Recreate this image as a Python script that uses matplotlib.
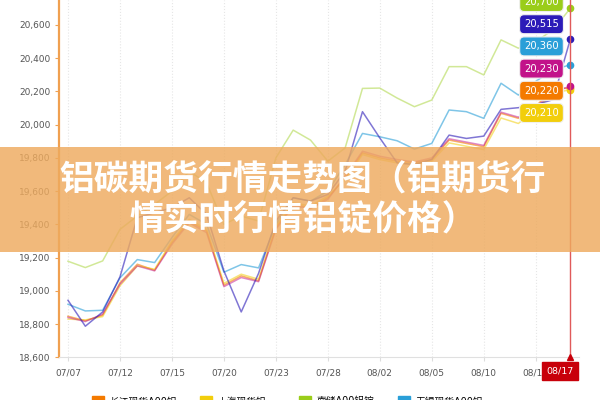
import matplotlib
matplotlib.use("Agg")
import matplotlib.pyplot as plt
from matplotlib.patches import Rectangle, Patch
from matplotlib.ticker import FuncFormatter

plt.rcParams['font.family'] = ['DejaVu Sans', 'Noto Sans CJK SC']

dates = ["07/07", "07/08", "07/11", "07/12", "07/13", "07/14", "07/15", "07/18",
         "07/19", "07/20", "07/21", "07/22", "07/23", "07/26", "07/27", "07/28",
         "07/29", "08/01", "08/02", "08/03", "08/04", "08/05", "08/08", "08/09",
         "08/10", "08/11", "08/12", "08/13", "08/16", "08/17"]

names = ["长江现货A00铝", "上海现货铝", "南储A00铝锭", "无锡现货A00铝", "佛山A00铝锭", "巩义A00铝锭"]

orange = [18847, 18820, 18853, 19048, 19160, 19124, 19290, 19420, 19360, 19034,
          19090, 19060, 19380, 19520, 19500, 19560, 19680, 19830, 19800, 19780,
          19770, 19790, 19907, 19887, 19867, 20068, 20038, 20110, 20215, 20220]
yellow = [18830, 18825, 18845, 19030, 19150, 19130, 19300, 19430, 19370, 19045,
          19100, 19070, 19390, 19530, 19510, 19570, 19670, 19820, 19790, 19770,
          19760, 19780, 19890, 19870, 19850, 20040, 20007, 20090, 20190, 20210]
ygreen = [19178, 19140, 19180, 19370, 19450, 19520, 19600, 19720, 19650, 19400,
          19450, 19420, 19800, 19967, 19907, 19780, 19860, 20218, 20220, 20160,
          20108, 20148, 20349, 20349, 20299, 20510, 20460, 20500, 20570, 20700]
lblue = [18919, 18879, 18883, 19078, 19188, 19170, 19320, 19460, 19400, 19112,
         19158, 19138, 19400, 19560, 19540, 19600, 19760, 19947, 19927, 19903,
         19853, 19887, 20088, 20078, 20038, 20249, 20178, 20260, 20330, 20360]
magenta = [18840, 18815, 18860, 19040, 19150, 19120, 19280, 19410, 19350, 19025,
           19080, 19055, 19370, 19510, 19495, 19550, 19690, 19840, 19810, 19790,
           19775, 19800, 19915, 19895, 19875, 20075, 20045, 20100, 20200, 20230]
indigo = [18943, 18787, 18873, 19084, 19440, 19470, 19500, 19560, 19460, 19120,
          18873, 19105, 19420, 19560, 19540, 19580, 19720, 20078, 19920, 19770,
          19760, 19790, 19937, 19917, 19931, 20092, 20102, 20120, 20150, 20515]

series = [orange, yellow, ygreen, lblue, magenta, indigo]
colors = ["#F47A00", "#F2CE0C", "#9ACD1A", "#2A9FD8", "#C2138A", "#2B1BB8"]
line_alpha = [0.6, 0.55, 0.45, 0.6, 0.5, 0.6]

yticks = list(range(18600, 20601, 200))

fig = plt.figure(figsize=(6, 4), dpi=100)
ax = fig.add_axes([59/600, 1 - 357.3/400, 520/600, 357.3/400])

x = list(range(len(dates)))
for s, c, a in zip(series, colors, line_alpha):
    ax.plot(x, s, color=c, lw=1.1, alpha=a, zorder=3)
    ax.plot(x[-1], s[-1], 'o', color=c, ms=4.5, zorder=4)

ax.set_xlim(-0.52, 29.5)
ax.set_ylim(18600, 20750)
ax.set_yticks(yticks)
ax.yaxis.set_major_formatter(FuncFormatter(lambda v, p: f"{int(v):,}"))
ax.set_xticks(x[::3])
ax.set_xticklabels(dates[::3])
ax.tick_params(axis='y', length=3, color='#F0A050', labelsize=6.5, labelcolor='#555555', pad=3)
ax.tick_params(axis='x', length=3, color='#dddddd', labelsize=6.5, labelcolor='#555555', pad=5)
ax.grid(axis='x', color='#e6e6e6', ls=':', lw=0.8)
ax.grid(axis='y', visible=False)
for sp in ['top', 'right']:
    ax.spines[sp].set_visible(False)
ax.spines['left'].set_color('#F0A050')
ax.spines['left'].set_linewidth(1.6)
ax.spines['bottom'].set_color('#e0e0e0')

# crosshair at last date
ax.axvline(x[-1], color='#E05a5a', lw=1, zorder=5)
ax.plot(x[-1], 18600, marker='^', color='#C8000A', ms=4, clip_on=False, zorder=6)
ax.annotate(dates[-1], xy=(x[-1], 18600), xytext=(-10, -13.7), textcoords='offset pixels',
            ha='center', va='center', fontsize=6.8, color='white', annotation_clip=False,
            bbox=dict(boxstyle='square,pad=0.45', fc='#C8000A', ec='#C8000A'), zorder=7)

# stacked value tooltips
order = sorted(range(len(series)), key=lambda k: -series[k][-1])
for rank, k in enumerate(order):
    yc = 2 + 22.2 * rank
    ax.annotate(f"{series[k][-1]:,}", xy=(x[-1], series[k][-1]), xytext=(541.5, 400 - yc),
                textcoords='figure pixels', ha='center', va='center', fontsize=7.2,
                color='white', annotation_clip=False,
                bbox=dict(boxstyle='round,pad=0.45', fc=colors[k], ec='#f0f0f0', lw=0.8),
                zorder=8)

# overlay band with title
fig.patches.append(Rectangle((0, 1 - 252/400), 1, 105/400, transform=fig.transFigure,
                             fc='#EEAA5E', alpha=0.82, ec='none', zorder=10))
fig.text(303/600, 1 - 179/400, "铝碳期货行情走势图（铝期货行", ha='center', va='center',
         fontsize=25, color='white', weight='black', family=['Noto Sans CJK SC'], zorder=11)
fig.text(303/600, 1 - 220/400, "情实时行情铝锭价格）", ha='center', va='center',
         fontsize=25, color='white', weight='black', family=['Noto Sans CJK SC'], zorder=11)

# legend (mostly cut off at the bottom); arranged so the first row reads
# orange, yellow, yellow-green, blue (matplotlib fills legend columns first)
leg_order = [0, 4, 1, 5, 2, 3]
handles = [Patch(fc=colors[k], ec=colors[k]) for k in leg_order]
labels = [names[k] for k in leg_order]
fig.legend(handles, labels, ncol=4, loc='upper left', bbox_to_anchor=(92/600, 1 - 396/400),
           frameon=False, fontsize=7, handlelength=1.2, handleheight=1.2,
           columnspacing=2.4, handletextpad=0.6, borderpad=0, borderaxespad=0)

fig.savefig("out.png", dpi=100)
